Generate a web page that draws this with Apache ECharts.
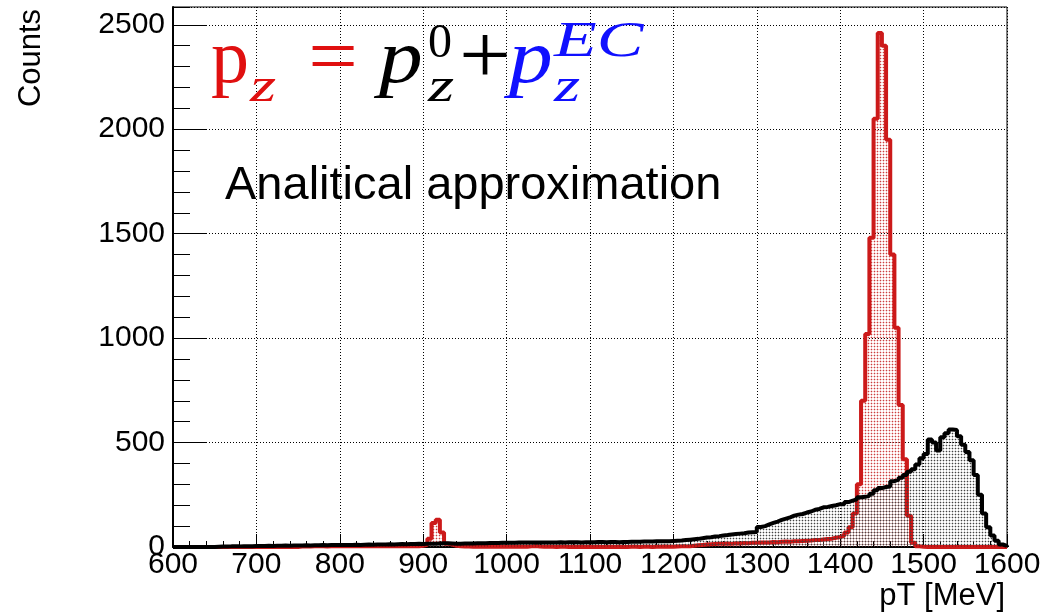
<!DOCTYPE html>
<html>
<head>
<meta charset="utf-8">
<title>pT spectrum</title>
<script src="https://cdn.jsdelivr.net/npm/echarts@6/dist/echarts.min.js"></script>
<style>
  html, body { margin: 0; padding: 0; background: #fff; }
  #chart { width: 1054px; height: 616px; }
</style>
</head>
<body>
<div id="chart"></div>
<script>
// Histogram binning: 200 bins of 5 MeV from 600 to 1600 MeV
const binStart = 600;
const binWidth = 5;
const xRange = [600, 1600];
const yRange = [0, 2585];

// Uncorrected pT spectrum (black)
const countsRaw = [
  0, 0, 0, 0, 0, 0, 0, 0, 0, 0,
  1, 2, 2, 3, 3, 3, 4, 4, 4, 5,
  5, 5, 6, 5, 6, 6, 7, 6, 7, 7,
  7, 8, 7, 8, 8, 9, 8, 9, 9, 10,
  10, 9, 10, 11, 10, 11, 12, 11, 12, 12,
  12, 13, 12, 13, 14, 13, 14, 14, 15, 14,
  15, 15, 16, 17, 18, 18, 17, 16, 16, 17,
  17, 17, 18, 18, 18, 19, 19, 19, 20, 20,
  20, 20, 21, 21, 21, 22, 22, 21, 22, 22,
  22, 22, 23, 22, 23, 23, 23, 22, 23, 23,
  23, 24, 24, 23, 24, 24, 23, 24, 24, 25,
  25, 25, 26, 26, 26, 27, 27, 28, 28, 29,
  30, 31, 33, 35, 37, 39, 42, 45, 47, 50,
  52, 55, 57, 60, 62, 64, 66, 69, 71, 72,
  96, 100, 108, 115, 122, 130, 136, 142, 150, 155,
  158, 165, 170, 178, 182, 190, 192, 196, 200, 205,
  205, 215, 222, 228, 238, 240, 245, 255, 272, 282,
  287, 290, 315, 322, 332, 345, 360, 372, 395, 425,
  445, 515, 500, 462, 525, 545, 562, 560, 530, 490,
  455, 415, 345, 250, 160, 95, 55, 30, 12, 5
];

// Spectrum with p_z = p_z^0 + p_z^EC (red)
const countsCorrected = [
  0, 0, 0, 0, 0, 0, 0, 0, 0, 0,
  0, 0, 0, 0, 0, 0, 0, 0, 0, 0,
  0, 0, 0, 0, 0, 0, 0, 0, 0, 0,
  2, 3, 2, 3, 4, 3, 2, 3, 4, 3,
  3, 4, 3, 5, 4, 3, 4, 5, 3, 4,
  4, 3, 4, 5, 4, 3, 4, 5, 4, 6,
  10, 40, 115, 130, 70, 15, 12, 6, 3, 2,
  2, 1, 2, 1, 1, 2, 1, 1, 2, 1,
  1, 1, 2, 1, 1, 3, 5, 2, 1, 1,
  1, 0, 1, 1, 0, 1, 0, 1, 0, 1,
  0, 1, 0, 0, 1, 0, 1, 0, 0, 1,
  1, 0, 1, 1, 0, 1, 1, 2, 1, 1,
  2, 3, 3, 4, 6, 8, 10, 12, 13, 14,
  15, 16, 17, 15, 18, 17, 19, 18, 20, 20,
  21, 22, 22, 24, 23, 25, 26, 25, 27, 28,
  29, 30, 31, 33, 34, 36, 38, 40, 44, 48,
  55, 70, 95, 160, 300, 700, 1020, 1480, 2050, 2460,
  2400, 1950, 1400, 1050, 680, 420, 150, 20, 3, 1,
  0, 0, 0, 0, 0, 0, 0, 0, 0, 0,
  0, 0, 0, 0, 0, 0, 0, 0, 0, 0
];

// Step-line points at each bin's low edge, closed at the upper edge
function toSteps(counts) {
  const pts = counts.map((v, i) => [binStart + i * binWidth, v]);
  pts.push([binStart + counts.length * binWidth, 0]);
  return pts;
}

// Small dotted fill pattern
function dotPattern(dot, halo) {
  const c = document.createElement('canvas');
  c.width = 3; c.height = 3;
  const g = c.getContext('2d');
  g.fillStyle = halo;
  g.fillRect(0, 1, 3, 1);
  g.fillRect(1, 0, 1, 3);
  g.fillStyle = dot;
  g.fillRect(1, 1, 1, 1);
  return { image: c, repeat: 'repeat' };
}

const sans = '"Liberation Sans", Arial, sans-serif';
const serif = '"Liberation Serif", "Times New Roman", serif';
const RED = '#e01010';
const LINE_RED = '#cc1a1a';
const BLUE = '#1010ff';

function txt(x, y, text, font, fill, extra, align) {
  const a = align || 'left';
  return Object.assign({
    type: 'text', x: x, y: y, silent: true, z: 100,
    style: {
      text: text, font: font, fill: fill,
      textAlign: a, align: a,
      textVerticalAlign: 'middle', verticalAlign: 'middle'
    }
  }, extra || {});
}

const chart = echarts.init(document.getElementById('chart'), null, { renderer: 'canvas' });

const axisFont = { fontFamily: sans, fontSize: 30, color: '#000', formatter: v => String(v) };

chart.setOption({
  animation: false,
  backgroundColor: '#fff',
  grid: {
    left: 173, right: 47, top: 7, bottom: 69,
    show: true, borderColor: '#000', borderWidth: 1, backgroundColor: 'transparent'
  },
  xAxis: {
    type: 'value',
    min: xRange[0], max: xRange[1], interval: 100,
    axisLine: { show: true, onZero: false, lineStyle: { color: '#000', width: 2 } },
    axisTick: { show: true, inside: true, length: 13, lineStyle: { color: '#000', width: 1 } },
    minorTick: { show: true, splitNumber: 5, length: 6, lineStyle: { color: '#000', width: 1 } },
    splitLine: { show: true, lineStyle: { color: '#000', width: 1, type: [1, 2] } },
    axisLabel: Object.assign({ margin: 3 }, axisFont)
  },
  yAxis: [
    {
      type: 'value', position: 'left',
      min: yRange[0], max: yRange[1], interval: 500,
      axisLine: { show: true, onZero: false, lineStyle: { color: '#000', width: 2 } },
      axisTick: { show: true, inside: true, length: 34, lineStyle: { color: '#000', width: 1 } },
      splitLine: { show: true, lineStyle: { color: '#000', width: 1, type: [1, 2] } },
      axisLabel: Object.assign({ margin: 8, showMaxLabel: false }, axisFont)
    },
    {
      type: 'value', position: 'left',
      min: yRange[0], max: yRange[1], interval: 100,
      axisLine: { show: false },
      axisTick: { show: true, inside: true, length: 17, lineStyle: { color: '#000', width: 1 } },
      splitLine: { show: false },
      axisLabel: { show: false }
    }
  ],
  series: [
    {
      name: 'corrected',
      type: 'line',
      step: 'end',
      symbol: 'none',
      data: toSteps(countsCorrected),
      lineStyle: { color: LINE_RED, width: 4 },
      areaStyle: { color: dotPattern('#c84040', 'rgba(225,110,110,0.35)'), opacity: 1 },
      z: 2
    },
    {
      name: 'raw',
      type: 'line',
      step: 'end',
      symbol: 'none',
      data: toSteps(countsRaw),
      lineStyle: { color: '#000', width: 4 },
      areaStyle: { color: dotPattern('#444', 'rgba(0,0,0,0.18)'), opacity: 1 },
      z: 3
    }
  ],
  graphic: [
    // axis titles
    txt(31, 58, 'Counts', '31px ' + sans, '#000', { rotation: Math.PI / 2 }, 'center'),
    txt(1005, 596, 'pT [MeV]', '31px ' + sans, '#000', null, 'right'),
    // annotation
    txt(225, 186, 'Analitical approximation', '47px ' + sans, '#000'),
    // p_z = p_z^0 + p_z^EC
    txt(211, 62, 'p', '76px ' + serif, RED),
    txt(250, 88, 'z', 'italic 48px ' + serif, RED, { scaleX: 1.4 }),
    txt(333, 62, '=', '80px ' + serif, RED, { scaleX: 1.1 }, 'center'),
    txt(379, 62, 'p', 'italic 76px ' + serif, '#000', { scaleX: 1.15 }),
    txt(428, 44, '0', '48px ' + serif, '#000'),
    txt(428, 88, 'z', 'italic 48px ' + serif, '#000', { scaleX: 1.4 }),
    txt(485, 61, '+', '84px ' + serif, '#000', { scaleX: 1.1 }, 'center'),
    txt(509, 62, 'p', 'italic 76px ' + serif, BLUE, { scaleX: 1.15 }),
    txt(554, 43, 'EC', 'italic 50px ' + serif, BLUE, { scaleX: 1.4 }),
    txt(554, 88, 'z', 'italic 48px ' + serif, BLUE, { scaleX: 1.4 })
  ]
});
</script>
</body>
</html>
